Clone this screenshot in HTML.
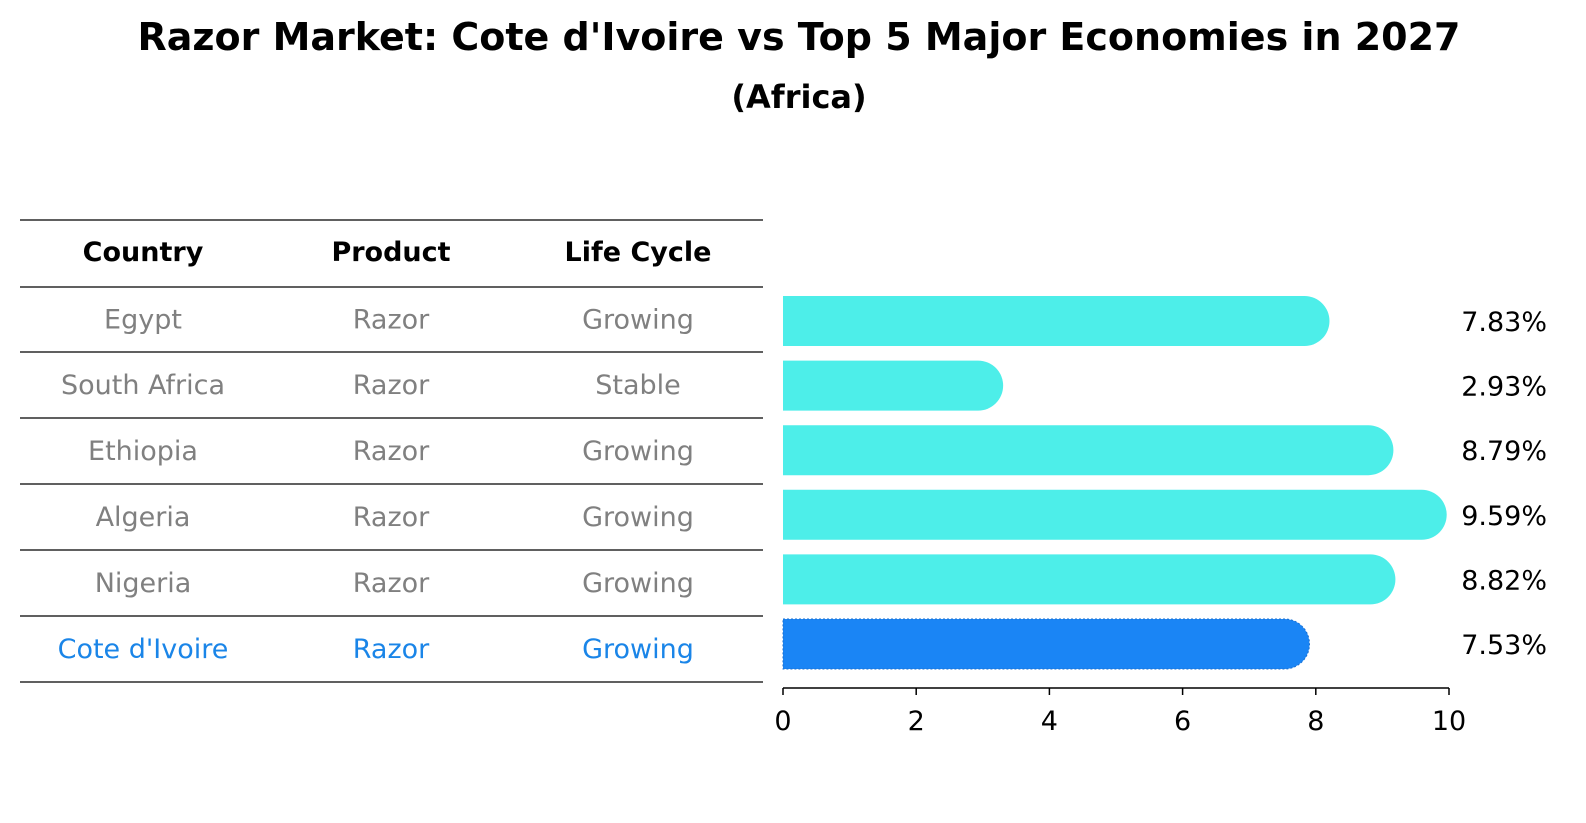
<!DOCTYPE html>
<html><head><meta charset="utf-8"><style>
body{margin:0;background:#fff;}
svg{display:block;font-family:"DejaVu Sans","Liberation Sans",sans-serif;}
</style></head><body>
<svg id="chart" width="1586" height="823" viewBox="0 0 1586 823">
<text x="799" y="50" text-anchor="middle" font-size="38" font-weight="bold">Razor Market: Cote d'Ivoire vs Top 5 Major Economies in 2027</text>
<text x="799" y="108" text-anchor="middle" font-size="32" font-weight="bold">(Africa)</text>
<g id="table">
<text x="143" y="261" text-anchor="middle" font-size="27" font-weight="bold">Country</text>
<text x="391" y="261" text-anchor="middle" font-size="27" font-weight="bold">Product</text>
<text x="638" y="261" text-anchor="middle" font-size="27" font-weight="bold">Life Cycle</text>
</g>
<g id="bars"></g>
<g id="axis"></g>
</svg>
<script>
const countries=["Egypt","South Africa","Ethiopia","Algeria","Nigeria","Cote d'Ivoire"];
const products=["Razor","Razor","Razor","Razor","Razor","Razor"];
const lifeCycles=["Growing","Stable","Growing","Growing","Growing","Growing"];
const values=[7.83,2.93,8.79,9.59,8.82,7.53];
const ticks=[0,2,4,6,8,10];
const NS="http://www.w3.org/2000/svg";
const x0=783,x1=1449,xmax=10;
const xs=v=>x0+v*(x1-x0)/xmax;
const rowY=i=>321+i*64.6;
function mk(tag,attrs,parent,text){const e=document.createElementNS(NS,tag);for(const k in attrs)e.setAttribute(k,attrs[k]);if(text!==undefined)e.textContent=text;parent.appendChild(e);return e;}
const table=document.getElementById('table');
const lineYs=[220,287,352,418,484,550,616,682];
lineYs.forEach(y=>{const l=mk('line',{x1:20,x2:763,y1:y,y2:y,stroke:'#000','stroke-width':1.2},table);

});
const colX=[143,391,638];
countries.forEach((c,i)=>{
 const last=i===countries.length-1;const col=last?'#1a85e8':'#808080';
 const ty=(lineYs[i+1]+lineYs[i+2])/2+9;
 [c,products[i],lifeCycles[i]].forEach((t,j)=>{
  const e=mk('text',{x:colX[j],y:ty,'text-anchor':'middle','font-size':27,fill:col},table,t);
  
  
 });
});
const bars=document.getElementById('bars');
values.forEach((v,i)=>{
 const last=i===values.length-1;const h=50,r=25;const y=rowY(i)-h/2;const xe=xs(v)+r;
 const d=`M${x0},${y} H${xe-r} A${r},${r} 0 0 1 ${xe-r},${y+h} H${x0} Z`;
 const p=mk('path',{d:d,fill:last?'#1a85f5':'#4deee9'},bars);
 if(last){p.setAttribute('stroke','#1a6fd0');p.setAttribute('stroke-dasharray','2,2');p.setAttribute('stroke-width','1');}
 
 
 const t=mk('text',{x:1547,y:rowY(i)+10,'text-anchor':'end','font-size':27},bars,v.toFixed(2)+'%');
 
 
});
const axis=document.getElementById('axis');
const al=mk('line',{x1:x0,x2:x1,y1:688,y2:688,stroke:'#000','stroke-width':1.5},axis);


ticks.forEach(t=>{
 const tk=mk('line',{x1:xs(t),x2:xs(t),y1:688,y2:695,stroke:'#000','stroke-width':1.5},axis);
 
 
 const lb=mk('text',{x:xs(t),y:730,'text-anchor':'middle','font-size':27},axis,String(t));
 
 
});
</script>
</body></html>
